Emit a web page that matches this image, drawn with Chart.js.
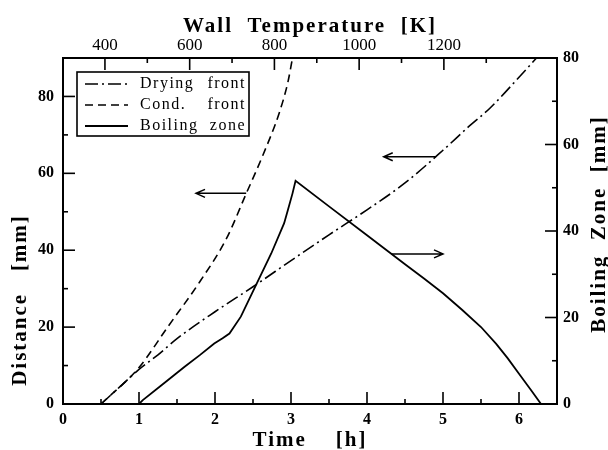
<!DOCTYPE html>
<html>
<head>
<meta charset="utf-8">
<script src="https://cdn.jsdelivr.net/npm/chart.js@4/dist/chart.umd.min.js"></script>
<style>
  html, body { margin: 0; padding: 0; background: #fff; }
</style>
</head>
<body>
<canvas id="chart" width="608" height="450"></canvas>
<script>
// drying front position [mm] over time [h] (left axis)
const dryTime = [0.5, 0.75, 1.0, 1.25, 1.5, 2.0, 2.5, 3.0, 3.5, 4.0, 4.5, 5.0, 5.33, 5.62, 6.0, 6.23];
const dryDist = [0, 4.5, 9, 12.8, 17, 24, 30.5, 37.3, 44, 50.5, 57.5, 66, 72, 77, 85, 90];

// condensation front [mm] (left axis)
const condTime = [0.5, 1.0, 1.38, 1.8, 2.15, 2.41, 2.63, 2.85, 2.96, 3.02];
const condDist = [0, 9.5, 20.1, 31.8, 43, 54.7, 64.7, 76, 83.8, 90];

// boiling zone width [mm] (right axis)
const boilTime = [1.0, 1.05, 1.3, 1.6, 1.8, 1.99, 2.1, 2.19, 2.34, 2.52, 2.74, 2.91, 2.96, 3.02, 3.06,
                  3.5, 4.0, 4.5, 4.75, 5.0, 5.25, 5.5, 5.7, 5.85, 6.0, 6.15, 6.29];
const boilWidth = [0, 0.9, 4.4, 8.6, 11.3, 14.0, 15.2, 16.3, 20.2, 26.8, 34.8, 41.8, 44.9, 48.7, 51.6,
                   45.7, 39.0, 32.3, 29.0, 25.6, 21.8, 17.8, 13.9, 10.6, 7.0, 3.4, 0];

// axis ticks
const timeTicks = [0, 1, 2, 3, 4, 5, 6];
const timeMinor = [0.5, 1.5, 2.5, 3.5, 4.5, 5.5, 6.5];
const tempTicks = [400, 600, 800, 1000, 1200];
const tempMinor = [500, 700, 900, 1100, 1300];
const distTicks = [0, 20, 40, 60, 80];
const distMinor = [10, 30, 50, 70];
const zoneTicks = [0, 20, 40, 60, 80];
const zoneMinor = [10, 30, 50, 70];

// arrows telling which axis a curve belongs to: [axis, level, from t, to t]
const arrows = [
  ['y', 54.8, 2.41, 1.75],
  ['y', 64.3, 4.91, 4.22],
  ['y2', 34.7, 4.32, 5.0]
];

const serif = "'Liberation Serif', 'DejaVu Serif', serif";

const toPoints = (xs, ys) => xs.map((x, i) => ({ x: x, y: ys[i] }));

function fixed(ticks) {
  return scale => { scale.ticks = ticks.map(v => ({ value: v })); };
}

// ticks pointing into the plot, on all four sides
const innerTicks = {
  id: 'innerTicks',
  afterDraw(chart) {
    const { ctx, chartArea: a, scales } = chart;
    ctx.save();
    ctx.strokeStyle = '#000';
    ctx.lineWidth = 1.6;
    const mark = (scale, v, len) => {
      const p = scale.getPixelForValue(v);
      ctx.beginPath();
      if (scale.position === 'bottom') { ctx.moveTo(p, a.bottom); ctx.lineTo(p, a.bottom - len); }
      if (scale.position === 'top') { ctx.moveTo(p, a.top); ctx.lineTo(p, a.top + len); }
      if (scale.position === 'left') { ctx.moveTo(a.left, p); ctx.lineTo(a.left + len, p); }
      if (scale.position === 'right') { ctx.moveTo(a.right, p); ctx.lineTo(a.right - len, p); }
      ctx.stroke();
    };
    timeTicks.slice(1).forEach(v => mark(scales.x, v, 12));
    timeMinor.forEach(v => mark(scales.x, v, 5));
    tempTicks.forEach(v => mark(scales.x2, v, 12));
    tempMinor.forEach(v => mark(scales.x2, v, 5));
    distTicks.slice(1).forEach(v => mark(scales.y, v, 12));
    distMinor.forEach(v => mark(scales.y, v, 5));
    zoneTicks.slice(1).forEach(v => mark(scales.y2, v, 12));
    zoneMinor.forEach(v => mark(scales.y2, v, 5));
    ctx.restore();
  }
};

const arrowMarks = {
  id: 'arrowMarks',
  afterDatasetsDraw(chart) {
    const { ctx, scales } = chart;
    ctx.save();
    ctx.strokeStyle = '#000';
    ctx.lineWidth = 1.5;
    arrows.forEach(([axis, level, t0, t1]) => {
      const y = scales[axis].getPixelForValue(level);
      const x0 = scales.x.getPixelForValue(t0);
      const x1 = scales.x.getPixelForValue(t1);
      const dir = Math.sign(x1 - x0);
      ctx.beginPath();
      ctx.moveTo(x0, y);
      ctx.lineTo(x1, y);
      ctx.moveTo(x1 - dir * 9, y - 4);
      ctx.lineTo(x1, y);
      ctx.lineTo(x1 - dir * 9, y + 4);
      ctx.stroke();
    });
    ctx.restore();
  }
};

// boxed legend in the upper left corner, words spread over the box width
const boxLegend = {
  id: 'boxLegend',
  afterDraw(chart) {
    const { ctx } = chart;
    const left = 77, top = 72, right = 249, bottom = 136;
    ctx.save();
    ctx.fillStyle = '#fff';
    ctx.fillRect(left, top, right - left, bottom - top);
    ctx.strokeStyle = '#000';
    ctx.lineWidth = 1.6;
    ctx.strokeRect(left, top, right - left, bottom - top);
    ctx.font = '16px ' + serif;
    ctx.fillStyle = '#000';
    ctx.textBaseline = 'middle';
    ctx.letterSpacing = '1.5px';
    chart.data.datasets.forEach((ds, i) => {
      const y = top + 12 + i * 21;
      ctx.setLineDash(ds.borderDash || []);
      ctx.lineWidth = ds.borderWidth;
      ctx.beginPath();
      ctx.moveTo(left + 8, y);
      ctx.lineTo(left + 51, y);
      ctx.stroke();
      const words = ds.label.split(' ');
      ctx.textAlign = 'left';
      ctx.fillText(words[0], left + 63, y);
      ctx.textAlign = 'right';
      ctx.fillText(words[1], right - 3, y);
    });
    ctx.restore();
  }
};

const axisTitles = {
  id: 'axisTitles',
  afterDraw(chart) {
    const { ctx, chartArea: a } = chart;
    const cx = (a.left + a.right) / 2;
    ctx.save();
    ctx.fillStyle = '#000';
    ctx.font = 'bold 21px ' + serif;
    ctx.letterSpacing = '2px';
    ctx.textAlign = 'center';
    ctx.textBaseline = 'alphabetic';
    ctx.fillText('Wall  Temperature  [K]', cx, 32);
    ctx.fillText('Time    [h]', cx, 446);
    ctx.translate(26, 300);
    ctx.rotate(-Math.PI / 2);
    ctx.fillText('Distance   [mm]', 0, 0);
    ctx.restore();
    ctx.save();
    ctx.fillStyle = '#000';
    ctx.font = 'bold 21px ' + serif;
    ctx.letterSpacing = '2px';
    ctx.textAlign = 'center';
    ctx.translate(605, 224);
    ctx.rotate(-Math.PI / 2);
    ctx.fillText('Boiling  Zone  [mm]', 0, 0);
    ctx.restore();
  }
};

const frame = { display: true, color: '#000', width: 2 };
const noGrid = { display: false, drawTicks: false };
const tickFont = { family: serif, size: 16, weight: 'bold' };

new Chart(document.getElementById('chart'), {
  type: 'line',
  data: {
    datasets: [
      {
        label: 'Drying front',
        data: toPoints(dryTime, dryDist),
        yAxisID: 'y',
        borderColor: '#000',
        borderWidth: 1.6,
        borderDash: [13, 4, 2, 4],
        cubicInterpolationMode: 'monotone',
        pointRadius: 0
      },
      {
        label: 'Cond. front',
        data: toPoints(condTime, condDist),
        yAxisID: 'y',
        borderColor: '#000',
        borderWidth: 1.6,
        borderDash: [8, 5],
        cubicInterpolationMode: 'monotone',
        pointRadius: 0
      },
      {
        label: 'Boiling zone',
        data: toPoints(boilTime, boilWidth),
        yAxisID: 'y2',
        borderColor: '#000',
        borderWidth: 1.8,
        tension: 0,
        pointRadius: 0
      }
    ]
  },
  options: {
    responsive: false,
    animation: false,
    devicePixelRatio: 1,
    layout: { padding: 0 },
    plugins: { legend: { display: false }, tooltip: { enabled: false } },
    scales: {
      x: {
        type: 'linear', position: 'bottom', min: 0, max: 6.5,
        grid: noGrid, border: frame,
        afterBuildTicks: fixed(timeTicks),
        afterFit: s => { s.height = 46; },
        ticks: { padding: 6, maxRotation: 0, color: '#000', font: tickFont }
      },
      x2: {
        type: 'linear', position: 'top', min: 301, max: 1467,
        grid: noGrid, border: frame,
        afterBuildTicks: fixed(tempTicks),
        afterFit: s => { s.height = 58; },
        ticks: { padding: 2, maxRotation: 0, color: '#000', font: { family: serif, size: 17 }, callback: v => String(v) }
      },
      y: {
        type: 'linear', position: 'left', min: 0, max: 90,
        grid: noGrid, border: frame,
        afterBuildTicks: fixed(distTicks),
        afterFit: s => { s.width = 63; },
        ticks: { padding: 9, color: '#000', font: tickFont }
      },
      y2: {
        type: 'linear', position: 'right', min: 0, max: 80,
        grid: noGrid, border: frame,
        afterBuildTicks: fixed(zoneTicks),
        afterFit: s => { s.width = 51; },
        ticks: { padding: 6, color: '#000', font: tickFont }
      }
    }
  },
  plugins: [innerTicks, arrowMarks, boxLegend, axisTitles]
});
</script>
</body>
</html>
